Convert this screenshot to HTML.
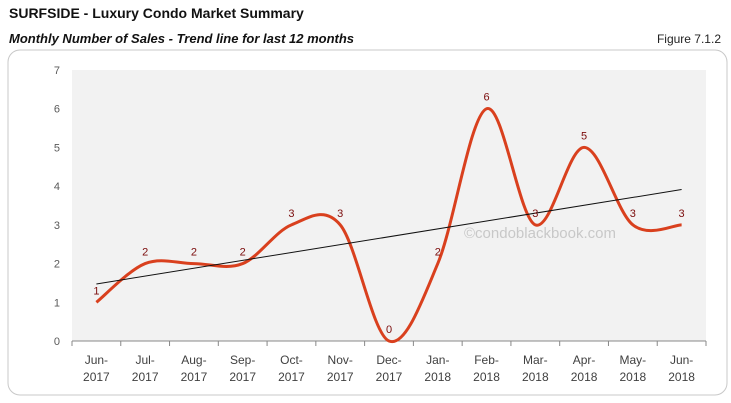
<!DOCTYPE html>
<html><head><meta charset="utf-8"><style>
body{margin:0;width:731px;height:403px;background:#fff;font-family:"Liberation Sans",Arial,sans-serif;overflow:hidden;position:relative}
.t{position:absolute;left:9px;top:5px;font-size:14px;font-weight:bold;color:#111}
.s{position:absolute;left:9px;top:31px;font-size:13px;font-weight:bold;font-style:italic;color:#111}
.f{position:absolute;right:10px;top:32px;font-size:12px;color:#222}
svg{position:absolute;left:0;top:0}
</style></head><body>
<div class="t">SURFSIDE - Luxury Condo Market Summary</div>
<div class="s">Monthly Number of Sales - Trend line for last 12 months</div>
<div class="f">Figure 7.1.2</div>
<svg id="c" width="731" height="403"></svg>
<script>
const categories=["Jun-|2017","Jul-|2017","Aug-|2017","Sep-|2017","Oct-|2017","Nov-|2017","Dec-|2017","Jan-|2018","Feb-|2018","Mar-|2018","Apr-|2018","May-|2018","Jun-|2018"];
const sales=[1,2,2,2,3,3,0,2,6,3,5,3,3];
const yTicks=[0,1,2,3,4,5,6,7];
const X0=72,X1=706,Y0=341,Y1=70,YMAX=7;
const svg=document.getElementById('c');const NS='http://www.w3.org/2000/svg';
const bw=(X1-X0)/categories.length;
const x=i=>X0+bw*(i+0.5);
const y=v=>Y0-(v/YMAX)*(Y0-Y1);
function mk(t,a,p){const e=document.createElementNS(NS,t);for(const k in a)e.setAttribute(k,a[k]);(p||svg).appendChild(e);return e;}
const box=mk('rect',{x:8,y:50,width:719,height:345,rx:12,fill:'#fff',stroke:'#c8c8c8'});


const pa=mk('rect',{x:X0,y:Y1,width:X1-X0,height:Y0-Y1,fill:'#f2f2f2'});


yTicks.forEach(v=>{const t=mk('text',{x:60,y:y(v)+4,'text-anchor':'end','font-size':11,fill:'#595959'});t.textContent=v;

});
const ax=mk('line',{x1:X0,x2:X1,y1:Y0,y2:Y0,stroke:'#888'});


for(let i=0;i<=categories.length;i++){mk('line',{x1:X0+bw*i,x2:X0+bw*i,y1:Y0,y2:Y0+5,stroke:'#888'});}
categories.forEach((c,i)=>{const p=c.split('|');const t=mk('text',{x:x(i),y:364,'text-anchor':'middle','font-size':12,fill:'#404040'});


const a=mk('tspan',{x:x(i)},t);a.textContent=p[0];const b=mk('tspan',{x:x(i),dy:17},t);b.textContent=p[1];});
const wm=mk('text',{x:540,y:238,'text-anchor':'middle','font-size':15,fill:'#c8c8c8'});wm.textContent='©condoblackbook.com';


// smooth line
const pts=sales.map((v,i)=>[x(i),y(v)]);
let d='M'+pts[0][0]+','+pts[0][1];
for(let i=0;i<pts.length-1;i++){const p0=pts[Math.max(0,i-1)],p1=pts[i],p2=pts[i+1],p3=pts[Math.min(pts.length-1,i+2)];
const k=6;d+=` C${p1[0]+(p2[0]-p0[0])/k},${p1[1]+(p2[1]-p0[1])/k} ${p2[0]-(p3[0]-p1[0])/k},${p2[1]-(p3[1]-p1[1])/k} ${p2[0]},${p2[1]}`;}
const ln=mk('path',{d:d,fill:'none',stroke:'#d9401e','stroke-width':3});


// trend
const n=sales.length;let sx=0,sy=0,sxy=0,sxx=0;sales.forEach((v,i)=>{sx+=i;sy+=v;sxy+=i*v;sxx+=i*i;});
const m=(n*sxy-sx*sy)/(n*sxx-sx*sx),b=(sy-m*sx)/n;
const tr=mk('line',{x1:x(0),y1:y(b),x2:x(n-1),y2:y(b+m*(n-1)),stroke:'#111','stroke-width':1});


sales.forEach((v,i)=>{const t=mk('text',{x:x(i),y:y(v)-8,'text-anchor':'middle','font-size':11,fill:'#7b0c0c'});t.textContent=v;

});
</script>
</body></html>
